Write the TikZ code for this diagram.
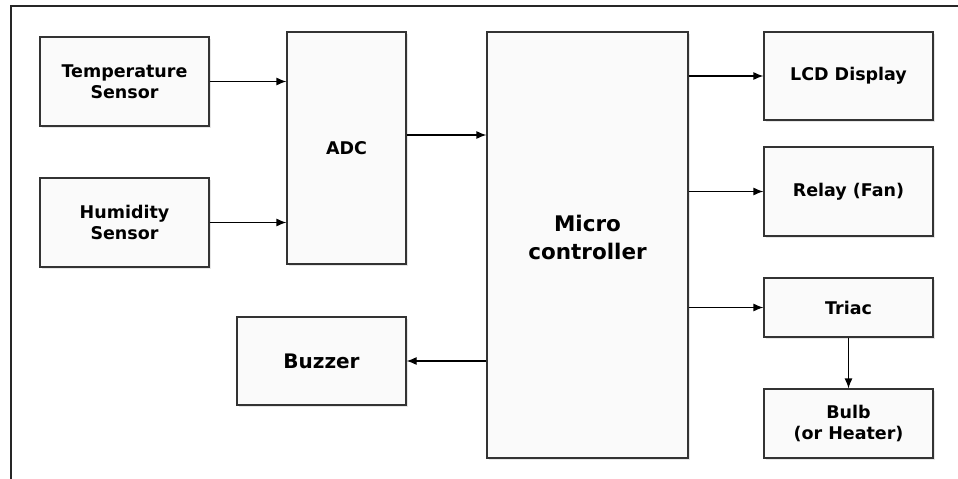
\documentclass[tikz,border=0pt]{standalone}
\usepackage{fontspec}
\setmainfont{DejaVu Sans}
\usepackage{tikz}
\usetikzlibrary{arrows.meta,positioning,calc,shadows}

\tikzset{
  blk/.style={draw=black!80, line width=1.2pt, fill=black!2, align=center, inner sep=0pt,
    font=\fontsize{17.5}{21.5}\selectfont\bfseries,
    drop shadow={opacity=0.2, shadow xshift=1.5pt, shadow yshift=-1.5pt}},
  big/.style={font=\fontsize{21.5}{28}\selectfont\bfseries},
  link/.style={-{Latex[length=10pt,width=8pt]}, line width=1.2pt}
}

\begin{document}
\begin{tikzpicture}[x=1pt, y=-1pt]
\useasboundingbox (0,0) rectangle (958,479);

  % Frame
\draw[line width=2pt, black!85] (11,479) -- (11,6) -- (958,6);

  % Define blocks
\node[blk, minimum width=169pt, minimum height=89pt] (temp) at (124.5,81.5) {Temperature\\Sensor}; \node[blk, minimum width=169pt, minimum height=89pt] (hum) at (124.5,222.5) {Humidity\\Sensor}; \node[blk, minimum width=119pt, minimum height=232pt] (adc) at (346.5,148) {ADC}; \node[blk, big, minimum width=201pt, minimum height=426pt, text depth=16pt] (mc) at (587.5,245) {Micro\\controller}; \node[blk, minimum width=169pt, minimum height=88pt] (lcd) at (848.5,76) {LCD Display}; \node[blk, minimum width=169pt, minimum height=89pt] (relay) at (848.5,191.5) {Relay (Fan)}; \node[blk, minimum width=169pt, minimum height=59pt] (triac) at (848.5,307.5) {Triac}; \node[blk, minimum width=169pt, minimum height=69pt] (bulb) at (848.5,423.5) {Bulb\\(or Heater)}; \node[blk, font=\fontsize{20}{24}\selectfont\bfseries, minimum width=169pt, minimum height=88pt] (buzzer) at (321.5,361) {Buzzer};
\coordinate (a1) at ([yshift=13pt]adc.east);

  % Draw arrows between blocks
\draw[link] (temp) -- (adc.west |- temp); \draw[link] (hum) -- (adc.west |- hum); \draw[link] (a1) -- (a1 -| mc.west); \draw[link] (mc.east |- lcd) -- (lcd); \draw[link] (mc.east |- relay) -- (relay); \draw[link] (mc.east |- triac) -- (triac); \draw[link] (mc.west |- buzzer) -- (buzzer); \draw[link] (triac) -- (bulb);

\end{tikzpicture}
\end{document}
